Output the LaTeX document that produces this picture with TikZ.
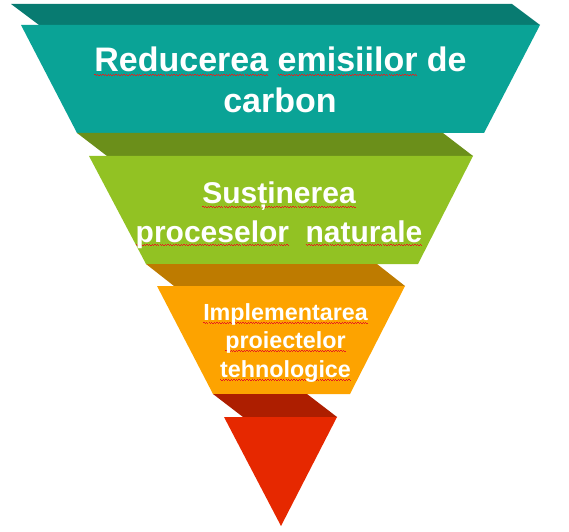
\documentclass[tikz,border=0pt]{standalone}
\usepackage{fontspec}
\setmainfont{Liberation Sans}
\definecolor{tealF}{RGB}{10,163,150}
\definecolor{tealB}{RGB}{8,123,113}
\definecolor{greenF}{RGB}{146,194,35}
\definecolor{greenB}{RGB}{107,143,26}
\definecolor{orangeF}{RGB}{253,163,0}
\definecolor{orangeB}{RGB}{190,123,0}
\definecolor{redF}{RGB}{230,40,0}
\definecolor{redB}{RGB}{173,30,0}
\definecolor{wavy}{RGB}{230,30,30}
\newsavebox\squigbox
\newcommand\squig[1]{\sbox\squigbox{#1}\rlap{\raisebox{-2.5bp}{\color{wavy}\hbox to\wd\squigbox{\xleaders\hbox{\rule[0bp]{1.3bp}{0.8bp}\rule[-1bp]{1.3bp}{0.8bp}}\hfil}}}\usebox\squigbox}
\tikzset{
  lbl/.style={anchor=base, inner sep=0pt, text=white, font=\bfseries},
  lone/.style={lbl, font=\bfseries\fontsize{34bp}{40bp}\selectfont},
  ltwo/.style={lbl, font=\bfseries\fontsize{30bp}{36bp}\selectfont},
  lthree/.style={lbl, font=\bfseries\fontsize{23.3bp}{28bp}\selectfont}
}
\begin{document}
\begin{tikzpicture}[x=1bp,y=-1bp]
\useasboundingbox (0,0) rectangle (569,532);
% level 1
\fill[tealB] (11,4) -- (512,4) -- (540,25) -- (39,25) -- cycle;
\fill[tealF] (21,25) -- (540,25) -- (484,133) -- (77,133) -- cycle;
% level 2
\fill[greenB] (77,133) -- (443,133) -- (473,156) -- (107,156) -- cycle;
\fill[greenF] (89,156) -- (473,156) -- (418,264) -- (146,264) -- cycle;
% level 3
\fill[orangeB] (146,264) -- (377,264) -- (405,286) -- (174,286) -- cycle;
\fill[orangeF] (157,286) -- (405,286) -- (350,394) -- (213,394) -- cycle;
% level 4
\fill[redB] (213,394) -- (307,394) -- (337,417) -- (243,417) -- cycle;
\fill[redF] (224,417) -- (337,417) -- (281,526) -- cycle;
% texts
\node[lone] (t1a) at (280.5,72) {\squig{Reducerea} \squig{emisiilor} de};
\node[lone] (t1b) at (280,113) {carbon};
\node[ltwo] (t2a) at (279,204) {\squig{Susținerea}};
\node[ltwo] (t2b) at (279,242) {\squig{proceselor}\hspace{0.55em}\squig{naturale}};
\node[lthree] (t3a) at (285.5,320) {\squig{Implementarea}};
\node[lthree] (t3b) at (285.5,348.5) {\squig{proiectelor}};
\node[lthree] (t3c) at (285.5,377) {\squig{tehnologice}};
\end{tikzpicture}
\end{document}
